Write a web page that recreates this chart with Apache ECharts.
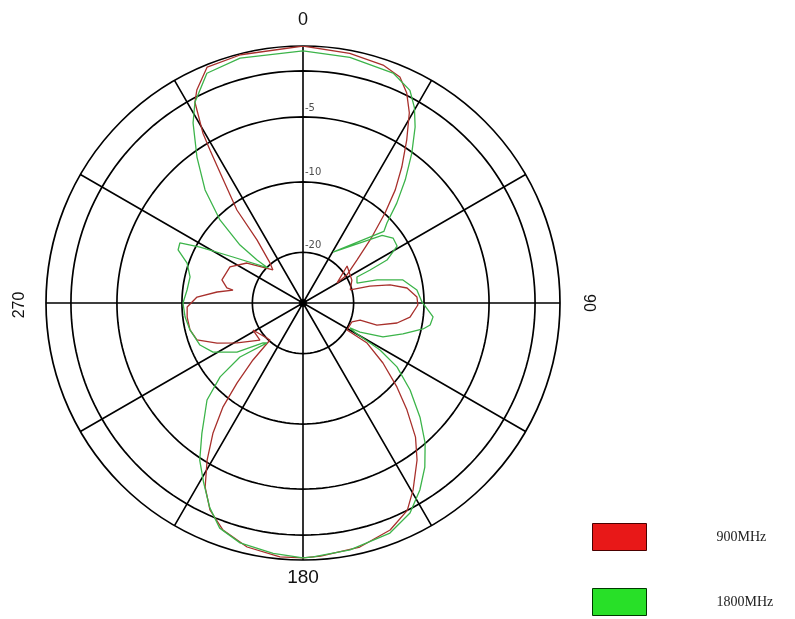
<!DOCTYPE html>
<html>
<head>
<meta charset="utf-8">
<script src="https://cdn.jsdelivr.net/npm/echarts@6/dist/echarts.min.js"></script>
<style>
html,body{margin:0;padding:0;background:#fff;}
#chart{width:795px;height:619px;}
</style>
</head>
<body>
<div id="chart"></div>
<script>
// Relative level (outer ring = 100) at bearing angle (degrees, clockwise from 0 at top)
const pattern900 = [
  [0,100],[10.6,98.8],[18.6,97.7],[23.2,95.7],[26.3,91.1],[29.2,84.8],[32.5,75.1],[36,65.4],
  [39.2,56.8],[42.3,47.5],[46.3,37.0],[51.5,26.8],[57.5,20.2],[59.5,15.4],[50,22.4],[64.9,21.0],
  [74.5,19.1],[75.8,26.8],[78.3,34.6],[81.8,40.9],[87,44.4],[91,44.7],[97.5,42.0],[102,37.4],
  [106.6,30.0],[106.6,23.2],[111,20.4],[121.5,20.1],[122,29.4],[126.9,38.9],[131.8,49.0],
  [135.8,58.0],[140,68.1],[144,75.5],[149.5,84.4],[153.3,90.3],[159,94.6],[166.9,97.5],
  [176,98.7],[180,99.2],[185.2,99.2],[192.9,97.4],[199.4,93.7],[204.2,88.3],[208,81.1],
  [211.4,71.6],[214.7,61.5],[217.6,51.0],[219.5,40.4],[221.3,29.5],[221.7,19.3],[241.6,22.1],
  [229.3,22.1],[238.8,30.0],[245,36.9],[250.8,43.7],[256.6,45.2],[263.1,45.4],[268,45.1],
  [273.2,41.3],[277.3,33.7],[280.5,27.7],[281.2,30.2],[285.9,32.8],[296.3,31.7],[305.5,26.8],
  [317.7,17.4],[320.5,20.2],[323.9,30.4],[324.6,44.4],[327.3,58.4],[328.7,69.6],[329.5,76.7],
  [331.7,88.7],[333.5,92.6],[337.9,99.1],[345.9,99.6],[360,100]
];
const pattern1800 = [
  [0,98.1],[10.8,97.3],[21.4,96.1],[26.7,92.6],[29.7,87.5],[32.5,81.2],[36,72.0],[39.7,62.3],
  [43.2,53.3],[46.4,45.1],[48.5,42.0],[30.5,23.0],[49.5,40.5],[54.2,43.2],[58.8,42.8],
  [62.9,36.7],[63.8,29.1],[64.3,23.3],[69.7,22.4],[72.7,30.2],[77,39.9],[83.5,44.6],[89.5,46.3],
  [96.1,50.9],[99.8,50.2],[102.2,47.8],[107.2,40.7],[113,33.8],[117,24.9],[118,20.7],[119.5,23.3],
  [121.4,35.1],[124.2,44.2],[129.1,53.7],[134.3,63.6],[138.9,72.3],[143.4,79.5],[148,85.8],
  [153,91.7],[159.3,95.7],[169.2,97.8],[177.7,98.9],[180,99.2],[186.8,98.1],[194.7,96.5],
  [200.3,93.4],[204.5,87.5],[209,79.8],[213.3,73.2],[217.8,64.2],[221,58.4],[224.7,53.1],
  [228.3,43.2],[229.4,32.3],[222,20.9],[225,22.0],[233.4,32.0],[241.4,39.9],[247.8,43.3],
  [256.6,45.2],[263.2,46.2],[270,46.7],[276.4,45.4],[283,45.1],[289,47.7],[293,52.8],[296,53.3],
  [298.5,45.6],[303.3,32.6],[315,19.3],[313.1,24.5],[312.6,33.3],[315,45.7],[319.1,58.2],
  [324,70.2],[328.6,82.1],[331.7,88.7],[337.3,96.9],[345.6,98.4],[360,98.1]
];
const gridRadii = [90.3, 72.4, 47.1, 19.7];
const ringLabels = ['-5', '-10', '-20'];
const ringLabelRadii = [75.9, 51.0, 22.6];
const angleLabels = ['0', '90', '180', '270'];
const seriesNames = ['900MHz', '1800MHz'];

const ringAngles = [];
for (let a = 0; a <= 360; a += 2) ringAngles.push(a);

const chart = echarts.init(document.getElementById('chart'), null, {renderer: 'canvas'});

const ringSeries = gridRadii.map(r => ({
  type: 'line', coordinateSystem: 'polar', silent: true, symbol: 'none',
  lineStyle: {color: '#000', width: 1.7}, z: 1,
  data: ringAngles.map(a => [r, a])
}));

const option = {
  backgroundColor: '#ffffff',
  animation: false,
  polar: {center: [303, 303], radius: 257},
  angleAxis: {
    type: 'value', min: 0, max: 360, interval: 30, startAngle: 90, clockwise: true,
    axisLine: {lineStyle: {color: '#000', width: 1.7}},
    axisTick: {show: false}, axisLabel: {show: false},
    splitLine: {show: true, lineStyle: {color: '#000', width: 1.6}}
  },
  radiusAxis: {
    type: 'value', min: 0, max: 100,
    axisLine: {show: false}, axisTick: {show: false}, axisLabel: {show: false}, splitLine: {show: false}
  },
  legend: {
    orient: 'vertical', left: 592, top: 523, padding: 0, itemWidth: 54, itemHeight: 27, itemGap: 37,
    icon: 'rect',
    data: [
      {name: seriesNames[0], itemStyle: {color: '#e81818', borderColor: '#4a0000', borderWidth: 1}},
      {name: seriesNames[1], itemStyle: {color: '#28e028', borderColor: '#003800', borderWidth: 1}}
    ],
    textStyle: {fontFamily: 'Liberation Serif', fontSize: 14, color: '#222', padding: [0, 0, 0, 65]}
  },
  series: ringSeries.concat([
    {
      name: seriesNames[0], type: 'line', coordinateSystem: 'polar', symbol: 'none', z: 3,
      lineStyle: {color: '#a8302c', width: 1.3}, itemStyle: {color: '#a8302c'},
      data: pattern900.map(p => [p[1], p[0]])
    },
    {
      name: seriesNames[1], type: 'line', coordinateSystem: 'polar', symbol: 'none', z: 3,
      lineStyle: {color: '#3cb44a', width: 1.3}, itemStyle: {color: '#3cb44a'},
      data: pattern1800.map(p => [p[1], p[0]])
    },
    {
      type: 'scatter', coordinateSystem: 'polar', silent: true, symbolSize: 8, z: 5,
      itemStyle: {color: '#000'}, data: [[0, 0]]
    },
    {
      type: 'scatter', coordinateSystem: 'polar', silent: true, symbolSize: 0, z: 5,
      data: ringLabelRadii.map((r, i) => ({value: [r, 0], name: ringLabels[i]})),
      label: {show: true, position: 'right', distance: 2, formatter: p => p.name,
        fontFamily: 'DejaVu Sans', fontSize: 10, color: '#222'}
    }
  ]),
  graphic: [
    {type: 'text', x: 303, y: 20, style: {text: angleLabels[0], align: 'center', verticalAlign: 'middle', font: '18px "Liberation Sans"', fill: '#111'}},
    {type: 'text', x: 588, y: 303, rotation: -Math.PI / 2, style: {text: angleLabels[1], align: 'center', verticalAlign: 'middle', font: '16px "Liberation Sans"', fill: '#111'}},
    {type: 'text', x: 303, y: 578, style: {text: angleLabels[2], align: 'center', verticalAlign: 'middle', font: '19px "Liberation Sans"', fill: '#111'}},
    {type: 'text', x: 20, y: 305, rotation: Math.PI / 2, style: {text: angleLabels[3], align: 'center', verticalAlign: 'middle', font: '16px "Liberation Sans"', fill: '#111'}}
  ]
};
chart.setOption(option);
</script>
</body>
</html>
